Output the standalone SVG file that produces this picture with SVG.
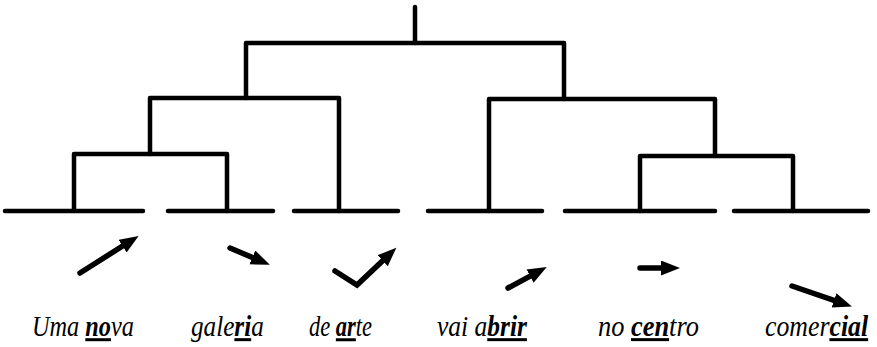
<svg xmlns="http://www.w3.org/2000/svg" width="877" height="347" viewBox="0 0 877 347">
  <style>
    .branch { fill: none; stroke: #000; stroke-width: 4.5; stroke-linejoin: round; stroke-linecap: round; }
    .base { fill: none; stroke: #000; stroke-width: 4.5; stroke-linecap: round; }
    .contour { fill: none; stroke: #000; stroke-width: 5.5; stroke-linecap: round; stroke-linejoin: miter; }
    .word { font-family: "Liberation Serif", "DejaVu Serif", serif; font-style: italic; font-size: 30px; fill: #000; }
    .stress { font-weight: bold; text-decoration: underline; }
  </style>
  <defs>
    <marker id="head" markerUnits="userSpaceOnUse" markerWidth="21" markerHeight="17" refX="7" refY="7.5" orient="auto">
      <path d="M0,0 L19,7.5 L0,15 Z" fill="#000"/>
    </marker>
  </defs>
  <rect width="877" height="347" fill="#fff"/>

  <!-- tree brackets joining the words -->
  <g id="connectors">
    <path class="branch" d="M415,7 V43"/>
    <path class="branch" d="M246,98 V43 H564 V99"/>
    <path class="branch" d="M150,154 V98 H339 V211"/>
    <path class="branch" d="M74,211 V154 H227 V211"/>
    <path class="branch" d="M489,211 V99 H715 V156"/>
    <path class="branch" d="M640,211 V156 H793 V211"/>
  </g>

  <g id="uma-nova">
    <path class="base" d="M5,211 H143"/>
    <path class="contour" d="M80,273 L128.5,242.3" marker-end="url(#head)"/>
    <text class="word" transform="translate(32,336) scale(0.81,1)">Uma <tspan class="stress">no</tspan>va</text>
  </g>

  <g id="galeria">
    <path class="base" d="M168,211 H273"/>
    <path class="contour" d="M230,248 L258.8,260.1" marker-end="url(#head)"/>
    <text class="word" transform="translate(191,336) scale(0.84,1)">gale<tspan class="stress">ri</tspan>a</text>
  </g>

  <g id="de-arte">
    <path class="base" d="M294,211 H398"/>
    <path class="contour" d="M335,271 L357,285 L387.7,255.9" marker-end="url(#head)"/>
    <text class="word" transform="translate(309,336) scale(0.75,1)">de <tspan class="stress">ar</tspan>te</text>
  </g>

  <g id="vai-abrir">
    <path class="base" d="M428,211 H542"/>
    <path class="contour" d="M508,288 L536.2,272.8" marker-end="url(#head)"/>
    <text class="word" transform="translate(437,336) scale(0.85,1)">vai a<tspan class="stress">brir</tspan></text>
  </g>

  <g id="no-centro">
    <path class="base" d="M565,211 H715"/>
    <path class="contour" d="M640,268 L668,268" marker-end="url(#head)"/>
    <text class="word" transform="translate(598,336) scale(0.88,1)">no <tspan class="stress">cen</tspan>tro</text>
  </g>

  <g id="comercial">
    <path class="base" d="M734,211 H868"/>
    <path class="contour" d="M792,286 L840.6,302.7" marker-end="url(#head)"/>
    <text class="word" transform="translate(765,336) scale(0.86,1)">comer<tspan class="stress">cial</tspan></text>
  </g>
</svg>
